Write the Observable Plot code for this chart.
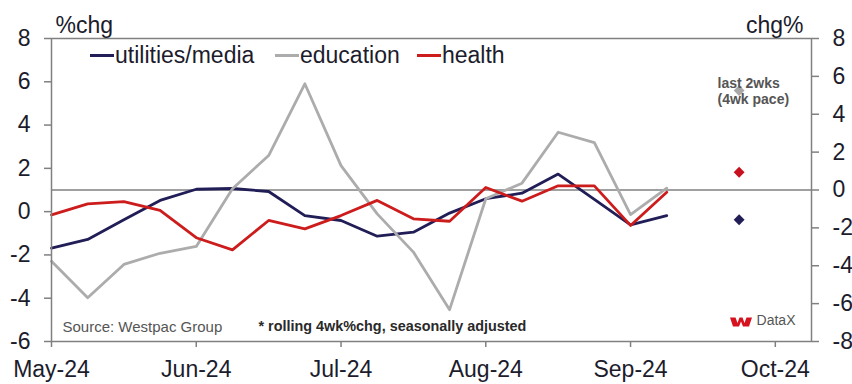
<!DOCTYPE html>
<html>
<head>
<meta charset="utf-8">
<script src="https://cdn.jsdelivr.net/npm/d3@7"></script>
<script src="https://cdn.jsdelivr.net/npm/@observablehq/plot@0.6"></script>
<style>
  body { margin: 0; background: #fff; }
  #chart { position: relative; width: 852px; height: 384px; font-family: "Liberation Sans", Arial, sans-serif; }
  .legend-item { position: absolute; top: 43.5px; display: flex; align-items: center; font-size: 23px; line-height: 23px; color: #1c1c2c; white-space: nowrap; }
  .legend-item .sw { width: 24px; height: 3px; margin-right: 1px; }
  #logo { position: absolute; left: 730px; top: 317px; }
</style>
</head>
<body>
<div id="chart"></div>
<script>
// Weekly observations (category index), rolling 4wk %chg, seasonally adjusted
const weeks = [0, 1, 2, 3, 4, 5, 6, 7, 8, 9, 10, 11, 12, 13, 14, 15, 16, 17];
const utilitiesMedia = [-3.07, -2.61, -1.57, -0.55, 0.04, 0.08, -0.08, -1.35, -1.61, -2.44, -2.23, -1.22, -0.46, -0.17, 0.84, -0.5, -1.84, -1.35];
const education = [-3.76, -5.69, -3.93, -3.34, -2.98, 0.07, 1.82, 5.61, 1.29, -1.26, -3.28, -6.32, -0.46, 0.36, 3.05, 2.5, -1.3, 0.1];
const health = [-1.31, -0.73, -0.61, -1.08, -2.52, -3.16, -1.61, -2.05, -1.35, -0.55, -1.52, -1.65, 0.13, -0.59, 0.22, 0.22, -1.87, -0.12];

// Last 2 weeks at a 4wk pace, shown as diamonds
const lastWeek = [19];
const lastUtilities = [-1.57];
const lastEducation = [5.25];
const lastHealth = [0.94];

// Axis ticks and labels
const monthTicks = [0, 4, 8, 12, 16, 20];
const monthLabels = ["May-24", "Jun-24", "Jul-24", "Aug-24", "Sep-24", "Oct-24"];
const leftTicks = [-6, -4, -2, 0, 2, 4, 6, 8];
const rightTicks = [-8, -6, -4, -2, 0, 2, 4, 6, 8];

const names = ["utilities/media", "education", "health"];
const colors = ["#211d56", "#acacac", "#cc1c1c"];

// left axis (%chg, -6..8) is a rescaled view of the right axis (chg%, -8..8)
const toRight = v => (v - 8) * 16 / 14 + 8;
const fromRight = v => (v - 8) * 14 / 16 + 8;

const rows = (vals) => weeks.map((w, i) => ({week: w, value: vals[i]}));
const pts = (vals) => lastWeek.map((w, i) => ({week: w, value: vals[i]}));

const axisColor = "#808080";
const textColor = "#1c1c2c";

const plot = Plot.plot({
  width: 852,
  height: 384,
  marginLeft: 51,
  marginRight: 41,
  marginTop: 38,
  marginBottom: 43,
  x: {domain: [0, 21]},
  y: {domain: [-8, 8]},
  style: {fontFamily: '"Liberation Sans", Arial, sans-serif', color: textColor, background: "#fff"},
  marks: [
    Plot.ruleY([0], {stroke: axisColor, strokeWidth: 1.6}),
    Plot.line(rows(utilitiesMedia), {x: "week", y: "value", stroke: colors[0], strokeWidth: 2.8, strokeLinejoin: "round"}),
    Plot.line(rows(education), {x: "week", y: "value", stroke: colors[1], strokeWidth: 2.8, strokeLinejoin: "round"}),
    Plot.line(rows(health), {x: "week", y: "value", stroke: colors[2], strokeWidth: 2.8, strokeLinejoin: "round"}),
    Plot.dot(pts(lastEducation), {x: "week", y: "value", symbol: "diamond2", r: 4.9, fill: "#a8a8a8", stroke: null}),
    Plot.dot(pts(lastHealth), {x: "week", y: "value", symbol: "diamond2", r: 4.9, fill: "#c8101e", stroke: null}),
    Plot.dot(pts(lastUtilities), {x: "week", y: "value", symbol: "diamond2", r: 4.9, fill: "#211d56", stroke: null}),
    Plot.text(["last 2wks\n(4wk pace)"], {frameAnchor: "top-right", textAnchor: "start", lineAnchor: "top", dx: -94, dy: 39, fontSize: 14, fontWeight: "bold", fill: "#555", lineHeight: 1.1}),
    Plot.frame({stroke: axisColor, strokeWidth: 1.5}),
    Plot.axisX(monthTicks, {tickFormat: d => monthLabels[monthTicks.indexOf(d)], tickSize: 6, tickPadding: 13, fontSize: 23, stroke: axisColor, strokeWidth: 1.5, label: null}),
    Plot.axisY(leftTicks.map(toRight), {anchor: "left", tickFormat: d => String(Math.round(fromRight(d))), tickSize: 7, tickPadding: 14, fontSize: 23, stroke: axisColor, strokeWidth: 1.5, label: null}),
    Plot.axisY(rightTicks, {anchor: "right", tickFormat: d => String(d), tickSize: 7, tickPadding: 14, fontSize: 23, stroke: axisColor, strokeWidth: 1.5, label: null}),
    Plot.text(["%chg"], {frameAnchor: "top-left", textAnchor: "start", lineAnchor: "bottom", dx: 4, dy: -6, fontSize: 23, fill: textColor}),
    Plot.text(["chg%"], {frameAnchor: "top-right", textAnchor: "end", lineAnchor: "bottom", dx: -8, dy: -6, fontSize: 23, fill: textColor}),
    Plot.text(["Source: Westpac Group"], {frameAnchor: "bottom-left", textAnchor: "start", lineAnchor: "bottom", dx: 11, dy: -9.5, fontSize: 15, fill: "#555"}),
    Plot.text(["* rolling 4wk%chg, seasonally adjusted"], {frameAnchor: "bottom-left", textAnchor: "start", lineAnchor: "bottom", dx: 207, dy: -11, fontSize: 14.4, fontWeight: "bold", fill: "#2a2a2a"}),
    Plot.text(["DataX"], {frameAnchor: "bottom-right", textAnchor: "end", lineAnchor: "bottom", dx: -16, dy: -17, fontSize: 14, fill: "#555"})
  ]
});

const chart = document.getElementById("chart");
chart.appendChild(plot);

// legend drawn over the top of the plot area
const legendLeft = [90, 275, 417];
names.forEach((name, i) => {
  const item = document.createElement("div");
  item.className = "legend-item";
  item.style.left = legendLeft[i] + "px";
  const sw = document.createElement("span");
  sw.className = "sw";
  sw.style.background = colors[i];
  const label = document.createElement("span");
  label.textContent = name;
  item.appendChild(sw);
  item.appendChild(label);
  chart.appendChild(item);
});

// small red brand mark beside "DataX"
const logo = document.createElementNS("http://www.w3.org/2000/svg", "svg");
logo.setAttribute("id", "logo");
logo.setAttribute("width", "23");
logo.setAttribute("height", "10");
logo.innerHTML = '<polygon points="0,0.5 5.5,0.5 7.5,6 9.5,0.5 12.5,0.5 14.5,6 16.5,0.5 22,0.5 19,9.5 13,9.5 11,4.5 9,9.5 3,9.5" fill="#d5121e"/>';
chart.appendChild(logo);
</script>
</body>
</html>
